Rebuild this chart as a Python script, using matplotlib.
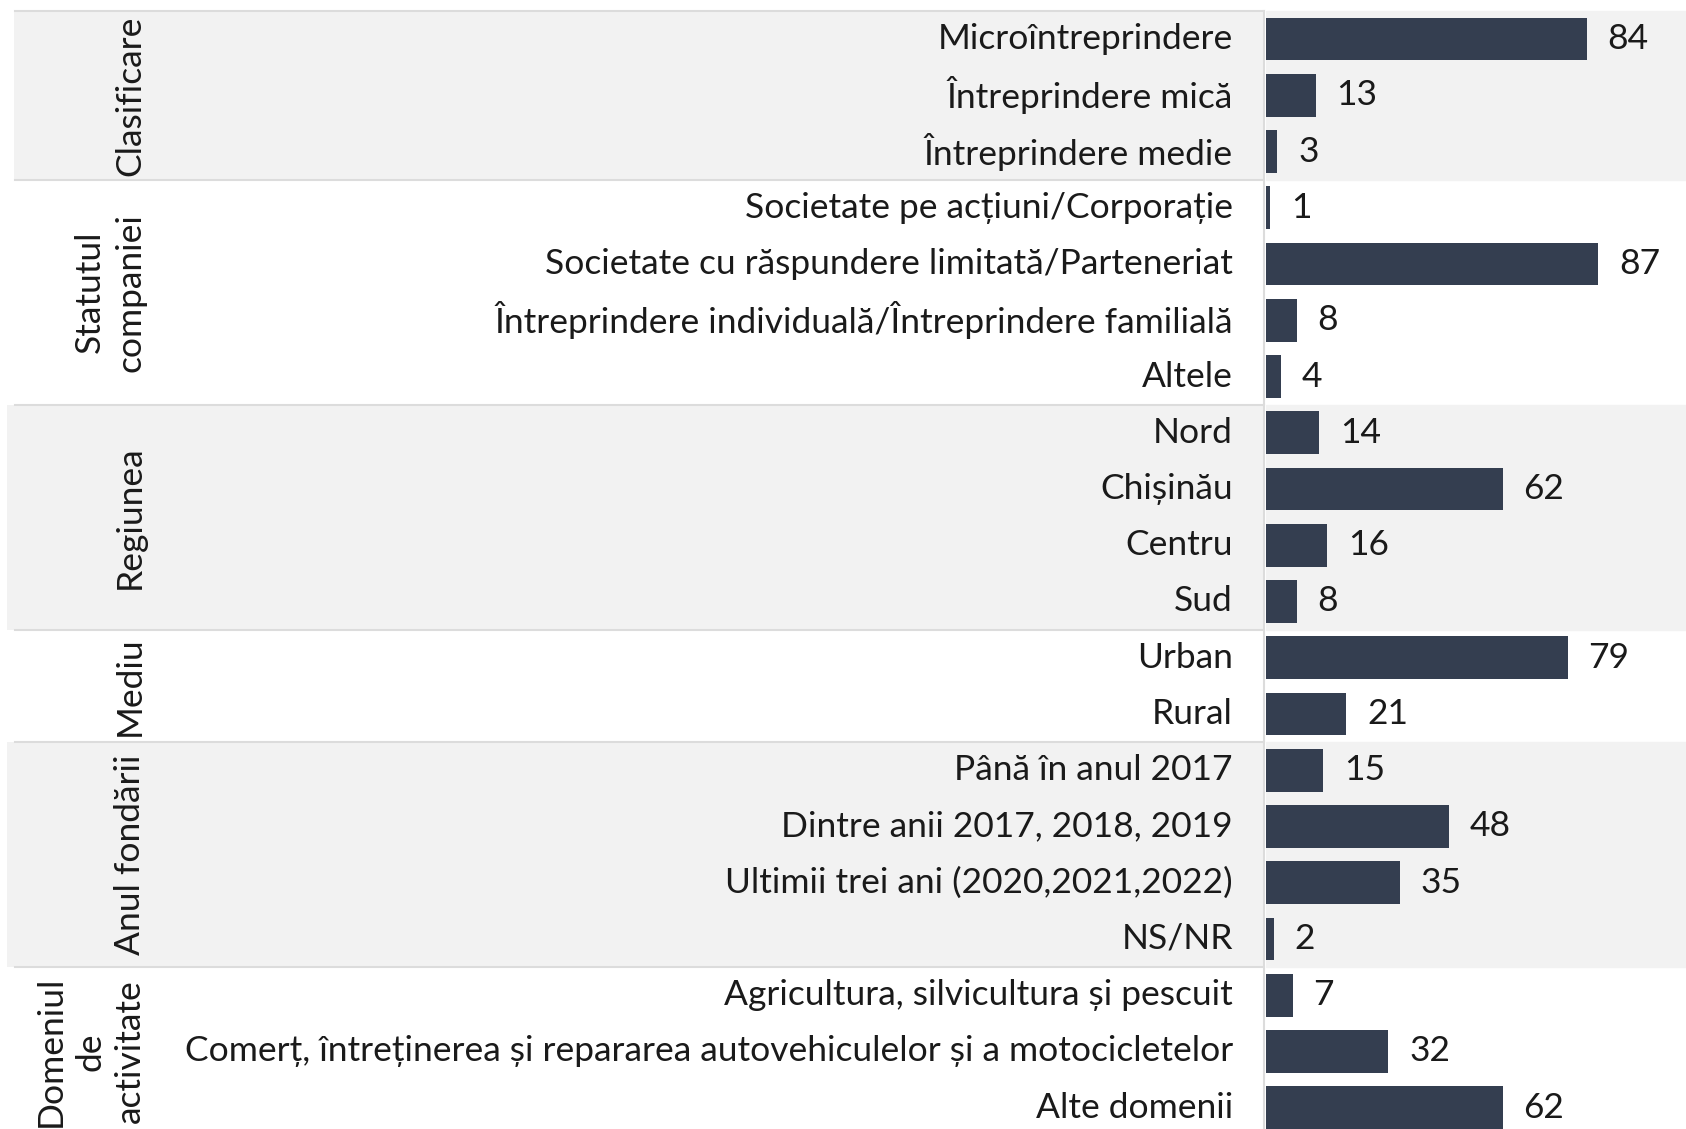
import numpy as np
import matplotlib
matplotlib.use('Agg')
import matplotlib.pyplot as plt
from matplotlib.patches import Rectangle
from matplotlib.transforms import blended_transform_factory

plt.rcParams['font.family'] = ['Lato', 'DejaVu Sans']

# data
groups = ['Clasificare', 'Statutul\ncompaniei', 'Regiunea', 'Mediu', 'Anul fondării', 'Domeniul\nde\nactivitate']
group_sizes = [3, 4, 4, 2, 4, 3]
categories = ['Microîntreprindere', 'Întreprindere mică', 'Întreprindere medie',
              'Societate pe acțiuni/Corporație', 'Societate cu răspundere limitată/Parteneriat',
              'Întreprindere individuală/Întreprindere familială', 'Altele',
              'Nord', 'Chișinău', 'Centru', 'Sud',
              'Urban', 'Rural',
              'Până în anul 2017', 'Dintre anii 2017, 2018, 2019', 'Ultimii trei ani (2020,2021,2022)', 'NS/NR',
              'Agricultura, silvicultura și pescuit',
              'Comerț, întreținerea și repararea autovehiculelor și a motocicletelor',
              'Alte domenii']
values = [84, 13, 3, 1, 87, 8, 4, 14, 62, 16, 8, 79, 21, 15, 48, 35, 2, 7, 32, 62]

W, H = 1686, 1129
fig = plt.figure(figsize=(W / 100, H / 100), dpi=100)
ax = fig.add_axes([1266 / W, 0, 1 - 1266 / W, 1])

bar_col = '#343e50'
band_col = '#f2f2f2'
line_col = '#dcdcdc'
txt_col = '#1a1a1a'
fs = 25.5

y = np.arange(len(values))
ax.barh(y, values, height=0.76, color=bar_col, zorder=3)
for yi, v in zip(y, values):
    ax.annotate(str(v), (v, yi), xytext=(15, 0), textcoords='offset points',
                ha='left', va='center', fontsize=fs, color=txt_col)

ax.set_xlim(0, 110)
ax.set_ylim(19.38, -0.695)
ax.axis('off')

# group bands, separators and labels
tr = blended_transform_factory(fig.transFigure, ax.transData)
start = 0
for gi, (g, n) in enumerate(zip(groups, group_sizes)):
    top, bot = start - 0.5, start + n - 0.5
    if gi % 2 == 0:
        ax.axhspan(top, bot, color=band_col, zorder=0)
        left = 14 / W if gi == 0 else 7 / W
        fig.patches.append(Rectangle((left, top), 1264 / W - left, n, transform=tr,
                                     facecolor=band_col, edgecolor='none', zorder=0))
    fig.lines.append(plt.Line2D([15 / W, 1264 / W], [top, top], transform=tr,
                                color=line_col, lw=1.5, zorder=1))
    fig.text(146 / W, (top + bot) / 2, g, transform=tr, rotation=90, ha='right', va='center',
             multialignment='center', fontsize=fs, color=txt_col, linespacing=1.3)
    start += n
fig.lines.append(plt.Line2D([15 / W, 1264 / W], [start - 0.5, start - 0.5], transform=tr,
                            color=line_col, lw=1.5, zorder=1))
fig.lines.append(plt.Line2D([1264 / W, 1264 / W], [-0.5, 19.38], transform=tr,
                            color=line_col, lw=1.5, zorder=2))

for yi, c in zip(y, categories):
    fig.text(1233 / W, yi, c, transform=tr, ha='right', va='center', fontsize=fs, color=txt_col)

fig.savefig('out.png', dpi=100)
